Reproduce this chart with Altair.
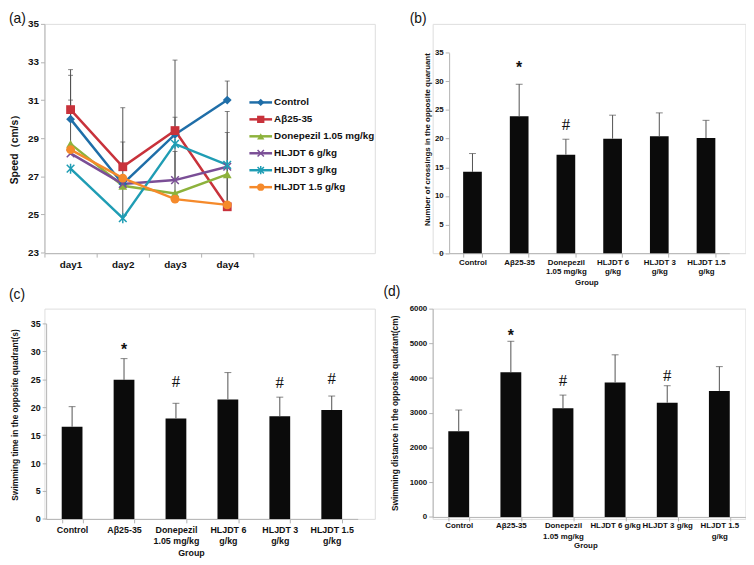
import json
import altair as alt
import pandas as pd

FONT = "Liberation Sans"
SERIF = "Liberation Serif"
INK = "#111111"
AXIS_GREY = "#b3b3b3"
ERR_GREY = "#505050"
BAR = "#0b0b0b"

# ---------------- data ----------------
days = ["day1", "day2", "day3", "day4"]
groups = ["Control", "Aβ25-35", "Donepezil 1.05 mg/kg", "HLJDT 6 g/kg", "HLJDT 3 g/kg", "HLJDT 1.5 g/kg"]
colors = ["#1f6ea8", "#c8323b", "#8db23c", "#7a4e96", "#1f9db4", "#f58a2b"]

# (a) swimming speed (cm/s)
speed_control = [30.0, 26.6, 29.2, 31.0]
speed_abeta = [30.5, 27.5, 29.4, 25.4]
speed_donepezil = [28.7, 26.5, 26.1, 27.1]
speed_hljdt6 = [28.2, 26.6, 26.8, 27.5]
speed_hljdt3 = [27.4, 24.8, 28.7, 27.6]
speed_hljdt15 = [28.4, 26.9, 25.8, 25.5]
# upper error bars (None = not visible)
sd_control = [2.3, None, 3.9, 1.0]
sd_abeta = [2.1, 3.1, None, 5.0]
sd_donepezil = [None, None, None, None]
sd_hljdt6 = [2.8, None, 3.3, None]
sd_hljdt3 = [None, 4.0, None, None]
sd_hljdt15 = [None, None, 2.5, 3.8]
speed_ticks = [23, 25, 27, 29, 31, 33, 35]

# (b) number of crossings
cross_mean = [14.2, 23.9, 17.2, 20.0, 20.4, 20.1]
cross_sd = [3.2, 5.6, 2.7, 4.1, 4.1, 3.1]
cross_sig = ["", "*", "#", "", "", ""]
cross_sig_y = [None, 33.1, 22.3, None, None, None]

# (c) swimming time (s)
time_mean = [16.5, 24.9, 18.0, 21.4, 18.4, 19.5]
time_sd = [3.6, 3.8, 2.7, 4.8, 3.4, 2.5]
time_sig = ["", "*", "#", "", "#", "#"]
time_sig_y = [None, 31.0, 24.5, None, 24.3, 25.0]

# (d) swimming distance (cm)
dist_mean = [2470, 4170, 3130, 3870, 3290, 3630]
dist_sd = [610, 890, 380, 800, 490, 700]
dist_sig = ["", "*", "#", "", "#", ""]
dist_sig_y = [None, 5320, 3900, None, 4070, None]

labels_bc = [["Control"], ["Aβ25-35"], ["Donepezil", "1.05 mg/kg"], ["HLJDT 6", "g/kg"],
             ["HLJDT 3", "g/kg"], ["HLJDT 1.5", "g/kg"]]
labels_d = [["Control"], ["Aβ25-35"], ["Donepezil", "1.05 mg/kg"], ["HLJDT 6 g/kg"],
            ["HLJDT 3 g/kg"], ["HLJDT 1.5", "g/kg"]]

# ---------------- helpers ----------------
AX = dict(domainColor=AXIS_GREY, tickColor=AXIS_GREY, tickSize=4, grid=False,
          labelFont=FONT, labelFontWeight="bold", labelColor=INK,
          titleFont=FONT, titleFontWeight="bold", titleColor=INK)


def js(v):
    return json.dumps(v, ensure_ascii=False)


def label_expr(lines):
    return f"{js(lines)}[indexof({js(groups)}, datum.value)]"


def panel_title(text, dx, offset):
    return alt.TitleParams(text, anchor="start", frame="group", dx=dx, offset=offset, fontSize=14,
                           fontWeight="normal", font=FONT, color=INK)


# ---------------- panel (a) ----------------
X_PATH = "M-1,-1L1,1M-1,1L1,-1"
AST_PATH = "M-1,-1L1,1M-1,1L1,-1M0,-1.3L0,1.3"
point_shapes = ["diamond", "square", "triangle-up", X_PATH, AST_PATH, "circle"]
point_filled = [True, True, True, False, False, True]

rows = []
for g, vals, sds in zip(groups,
                        [speed_control, speed_abeta, speed_donepezil, speed_hljdt6, speed_hljdt3, speed_hljdt15],
                        [sd_control, sd_abeta, sd_donepezil, sd_hljdt6, sd_hljdt3, sd_hljdt15]):
    for d, v, s in zip(days, vals, sds):
        rows.append({"day": d, "group": g, "speed": v, "top": (v + s) if s is not None else None})
df_a = pd.DataFrame(rows)

xa = alt.X("day:N", sort=days, title=None,
           scale=alt.Scale(type="band", domain=days, range=[0, 212], paddingInner=0, paddingOuter=0),
           axis=alt.Axis(labelAngle=0, tickBand="extent", labelFontSize=10, labelPadding=3, **AX))


def ya(field):
    return alt.Y(f"{field}:Q", title="Speed（cm/s）",
                 scale=alt.Scale(domain=[23, 35], range=[232, 0], nice=False, zero=False),
                 axis=alt.Axis(values=speed_ticks, labelFontSize=10, labelPadding=2, titleFontSize=10.5,
                               titleX=-30, titleY=124.5, titleAngle=270, titleBaseline="middle",
                               titleAlign="center", **AX))


color_a = alt.Color("group:N", sort=groups, scale=alt.Scale(domain=groups, range=colors), legend=None)

base_a = alt.Chart(df_a)
lines_a = base_a.mark_line(strokeWidth=2.5).encode(x=xa, y=ya("speed"), color=color_a)
err_a = base_a.transform_filter("isValid(datum.top)").mark_rule(color=ERR_GREY, strokeWidth=1).encode(
    x=xa, y=ya("speed"), y2="top:Q")
cap_a = base_a.transform_filter("isValid(datum.top)").mark_tick(color=ERR_GREY, thickness=1, size=5).encode(
    x=xa, y=ya("top"))


def marker_kw(shp, filled, col, big):
    if filled:
        return dict(filled=True, size=big, opacity=1, shape=shp, color=col)
    return dict(filled=False, size=big * 0.75, strokeWidth=1.5, opacity=1, shape=shp, color=col)


point_layers = []
for g, shp, filled, col in zip(groups, point_shapes, point_filled, colors):
    point_layers.append(
        base_a.transform_filter(alt.FieldEqualPredicate(field="group", equal=g))
        .mark_point(**marker_kw(shp, filled, col, 80)).encode(x=xa, y=ya("speed"))
    )
main_a = alt.layer(lines_a, err_a, cap_a, *point_layers)

# legend drawn from a small table through its own scales (line + marker + label)
df_leg = pd.DataFrame({"group": groups, "x0": 0.0, "xm": 0.5, "x1": 1.0})
leg_x = lambda f: alt.X(f"{f}:Q", scale=alt.Scale(domain=[0, 1], range=[208, 231]), axis=None)
leg_y = alt.Y("group:N", sort=groups, scale=alt.Scale(type="point", domain=groups, range=[79.7, 165.7],
                                                     padding=0), axis=None)
base_l = alt.Chart(df_leg)
leg_lines = base_l.mark_rule(strokeWidth=2.5).encode(x=leg_x("x0"), x2="x1:Q", y=leg_y, color=color_a)
leg_marks = []
for g, shp, filled, col in zip(groups, point_shapes, point_filled, colors):
    leg_marks.append(
        base_l.transform_filter(alt.FieldEqualPredicate(field="group", equal=g))
        .mark_point(**marker_kw(shp, filled, col, 55)).encode(x=leg_x("xm"), y=leg_y)
    )
leg_text = base_l.mark_text(align="left", baseline="middle", dx=2, font=FONT, fontSize=10,
                            fontWeight="bold", color=INK).encode(x=leg_x("x1"), y=leg_y, text="group:N")
legend_a = alt.layer(leg_lines, *leg_marks, leg_text)

panel_a = alt.layer(main_a, legend_a).resolve_scale(x="independent", y="independent").properties(
    width=335.3, height=232.7, title=panel_title("(a)", -36, -7.5),
)


# ---------------- bar panels ----------------
def bar_panel(letter, title_dx, title_offset, means, sds, sig, sig_y, lines, ymax, ystep,
              width, height, xr, yr, y_off, x_off, ytitle, ytx, yty, xtx, xty,
              tick_fs, lab_fs, lab_pad, lab_lh, ytitle_fs):
    df = pd.DataFrame({"group": groups, "mean": means, "top": [m + s for m, s in zip(means, sds)],
                       "sig": sig, "sig_y": sig_y})
    x = alt.X("group:N", sort=groups,
              scale=alt.Scale(type="band", domain=groups, range=xr, paddingInner=0.6, paddingOuter=0.3),
              axis=alt.Axis(labelAngle=0, tickBand="extent", labelExpr=label_expr(lines), labelFontSize=lab_fs,
                            labelPadding=lab_pad, labelLineHeight=lab_lh, offset=x_off,
                            title="Group", titleFontSize=lab_fs, titleX=xtx, titleY=xty,
                            titleBaseline="middle", titleAlign="center", **AX))

    def y(field):
        return alt.Y(f"{field}:Q", title=ytitle,
                     scale=alt.Scale(domain=[0, ymax], range=yr, nice=False, zero=True),
                     axis=alt.Axis(values=list(range(0, ymax + 1, ystep)), format="d", labelFontSize=tick_fs,
                                   labelPadding=2, offset=y_off, titleFontSize=ytitle_fs, titleX=ytx,
                                   titleY=yty, titleAngle=270, titleBaseline="middle", titleAlign="center",
                                   **AX))

    base = alt.Chart(df)
    bars = base.mark_bar(color=BAR).encode(x=x, y=y("mean"))
    err = base.mark_rule(color=ERR_GREY, strokeWidth=1).encode(x=x, y=y("mean"), y2="top:Q")
    cap = base.mark_tick(color=ERR_GREY, thickness=1, size=7).encode(x=x, y=y("top"))
    star = base.transform_filter("datum.sig === '*'").mark_text(
        font=FONT, fontWeight="bold", fontSize=16, color=INK, baseline="middle", dy=4
    ).encode(x=x, y=y("sig_y"), text="sig:N")
    hashm = base.transform_filter("datum.sig === '#'").mark_text(
        font=SERIF, fontSize=17, color=INK, baseline="middle"
    ).encode(x=x, y=y("sig_y"), text="sig:N")
    return alt.layer(bars, err, cap, star, hashm).properties(
        width=width, height=height, title=panel_title(letter, title_dx, title_offset),
    )


panel_b = bar_panel("(b)", -23.3, -2.5, cross_mean, cross_sd, cross_sig, cross_sig_y, labels_bc, 35, 5,
                    317.4, 232.7, [16.7, 301.1], [232.7, 29.3], -16.7, 0,
                    "Number of crossings in the opposite quaruant", -22, 117, 156, 29.3,
                    8, 8, 1.5, 9.5, 8)
panel_c = bar_panel("(c)", -36, 7, time_mean, time_sd, time_sig, time_sig_y, labels_bc, 35, 5,
                    335.3, 213.4, [1.7, 317.9], [213.4, 15], -1.7, 0,
                    "Swimming time in the opposite quadrant(s)", -32.4, 107.4, 148.7, 34,
                    9, 9, 3, 11, 8.5)
panel_d = bar_panel("(d)", -50, 6, dist_mean, dist_sd, dist_sig, dist_sig_y, labels_d, 6000, 1000,
                    317.4, 213.4, [0, 317.4], [211.4, 0], 0, -2,
                    "Swimming distance in the opposite quadrant(cm)", -38.3, 105.7, 155, 28.6,
                    8, 8, 1, 11, 8.5)

chart = alt.concat(panel_a, panel_b, panel_c, panel_d, columns=2, spacing={"row": 56, "column": 58},
                   bounds="flush").properties(
    padding=0, background="white"
).configure_view(stroke=None).configure(font=FONT)

chart.save("out.html", embed_options={"renderer": "svg", "actions": False})
